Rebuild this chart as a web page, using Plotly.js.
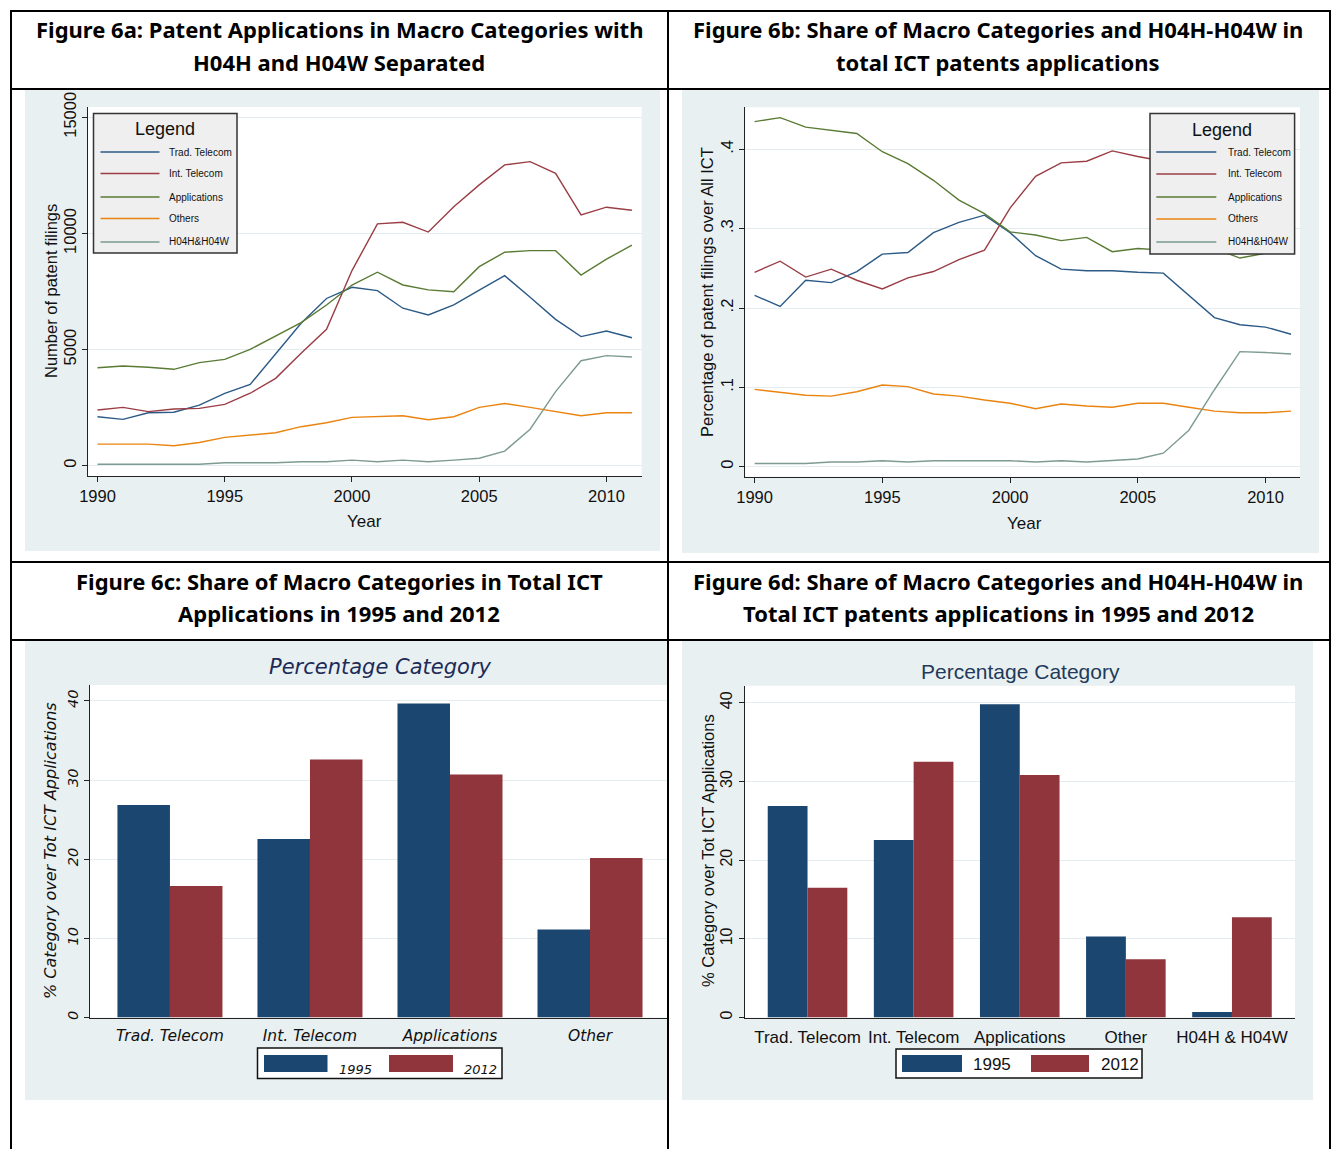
<!DOCTYPE html>
<html>
<head>
<meta charset="utf-8">
<script src="https://cdn.plot.ly/plotly-3.0.1.min.js"></script>
<style>
  html, body { margin: 0; padding: 0; background: #ffffff; }
  #chart { width: 1336px; height: 1149px; }
</style>
</head>
<body>
<div id="chart"></div>
<script>
// ---------- data ----------
const years = [1990, 1991, 1992, 1993, 1994, 1995, 1996, 1997, 1998, 1999, 2000,
               2001, 2002, 2003, 2004, 2005, 2006, 2007, 2008, 2009, 2010, 2011];
const yearTicks = [1990, 1995, 2000, 2005, 2010];

const seriesNames = ['Trad. Telecom', 'Int. Telecom', 'Applications', 'Others', 'H04H&H04W'];

// Figure 6a: number of patent filings
const countTrad  = [2110, 1995, 2280, 2300, 2610, 3115, 3500, 4840, 6130, 7200, 7680,
                    7540, 6780, 6490, 6920, 7560, 8180, 7250, 6300, 5560, 5800, 5510];
const countInt   = [2400, 2510, 2330, 2440, 2470, 2640, 3120, 3760, 4840, 5870, 8400,
                    10410, 10480, 10060, 11150, 12090, 12950, 13090, 12590, 10800, 11130, 11000];
const countApp   = [4220, 4290, 4240, 4150, 4440, 4580, 5010, 5580, 6160, 6920, 7780,
                    8330, 7780, 7570, 7490, 8570, 9190, 9260, 9260, 8210, 8890, 9500];
const countOther = [930, 930, 930, 860, 1000, 1220, 1320, 1420, 1680, 1850, 2080,
                    2100, 2150, 1980, 2110, 2510, 2680, 2510, 2330, 2150, 2280, 2280];
const countH04   = [60, 60, 60, 60, 60, 130, 130, 130, 170, 170, 240,
                    170, 240, 170, 240, 320, 630, 1570, 3190, 4520, 4740, 4680];
const countTicks = [0, 5000, 10000, 15000];
const countTickText = ['0', '5000', '10000', '15000'];

// Figure 6b: share of all ICT filings
const shareTrad  = [0.216, 0.202, 0.235, 0.232, 0.246, 0.268, 0.270, 0.295, 0.308, 0.317, 0.295,
                    0.266, 0.249, 0.247, 0.247, 0.245, 0.244, 0.216, 0.188, 0.179, 0.176, 0.167];
const shareInt   = [0.245, 0.259, 0.239, 0.249, 0.235, 0.224, 0.238, 0.246, 0.261, 0.273, 0.326,
                    0.366, 0.383, 0.385, 0.398, 0.391, 0.385, 0.389, 0.374, 0.346, 0.339, 0.333];
const shareApp   = [0.435, 0.440, 0.428, 0.424, 0.420, 0.397, 0.382, 0.361, 0.336, 0.319, 0.296,
                    0.292, 0.285, 0.289, 0.271, 0.275, 0.273, 0.275, 0.275, 0.263, 0.269, 0.288];
const shareOther = [0.0975, 0.094, 0.090, 0.089, 0.0945, 0.103, 0.101, 0.0916, 0.089, 0.084, 0.080,
                    0.073, 0.079, 0.0765, 0.075, 0.080, 0.080, 0.075, 0.070, 0.068, 0.068, 0.070];
const shareH04   = [0.004, 0.004, 0.004, 0.006, 0.006, 0.0075, 0.006, 0.0075, 0.0075, 0.0075, 0.0075,
                    0.006, 0.0075, 0.006, 0.0075, 0.0097, 0.017, 0.046, 0.097, 0.145, 0.144, 0.142];
const shareTicks = [0, 0.1, 0.2, 0.3, 0.4];
const shareTickText = ['0', '.1', '.2', '.3', '.4'];

// Figure 6c / 6d: percentage by category, 1995 vs 2012
const barYears = ['1995', '2012'];
const catsC = ['Trad. Telecom', 'Int. Telecom', 'Applications', 'Other'];
const pctC1995 = [26.85, 22.55, 39.66, 11.1];
const pctC2012 = [16.6, 32.6, 30.7, 20.15];
const catsD = ['Trad. Telecom', 'Int. Telecom', 'Applications', 'Other', 'H04H &amp; H04W'];
const pctD1995 = [26.86, 22.54, 39.8, 10.3, 0.7];
const pctD2012 = [16.5, 32.5, 30.8, 7.4, 12.75];
const pctTicks = [0, 10, 20, 30, 40];

// ---------- styling ----------
const W = 1336, H = 1149;
const px = x => x / W;          // pixel -> paper x
const py = y => 1 - y / H;      // pixel -> paper y

const lineColors = ['#2c5a86', '#9a3d45', '#5a7b34', '#ea8410', '#7d9b91'];
const barColors = ['#1b466f', '#90353c'];
const panelBg = '#e9f0f2';
const gridColor = '#e3ecef';
const axisColor = '#222222';

const stataFont = 'Liberation Sans, Arial, sans-serif';
const headFont = {family: 'Noto Sans, Open Sans, sans-serif', size: 22, color: '#000000', weight: 'bold'};
const scriptFam = 'DejaVu Sans, sans-serif';

// ---------- traces ----------
const countSeries = [countTrad, countInt, countApp, countOther, countH04];
const shareSeries = [shareTrad, shareInt, shareApp, shareOther, shareH04];
const traces = [];
countSeries.forEach((ys, i) => traces.push({
  type: 'scatter', mode: 'lines', x: years, y: ys, name: seriesNames[i],
  line: {color: lineColors[i], width: 1.4}, xaxis: 'x', yaxis: 'y', hoverinfo: 'skip'
}));
shareSeries.forEach((ys, i) => traces.push({
  type: 'scatter', mode: 'lines', x: years, y: ys, name: seriesNames[i],
  line: {color: lineColors[i], width: 1.4}, xaxis: 'x2', yaxis: 'y2', hoverinfo: 'skip'
}));
[pctC1995, pctC2012].forEach((ys, i) => traces.push({
  type: 'bar', x: catsC, y: ys, name: barYears[i], marker: {color: barColors[i], line: {width: 0}},
  xaxis: 'x3', yaxis: 'y3', hoverinfo: 'skip'
}));
[pctD1995, pctD2012].forEach((ys, i) => traces.push({
  type: 'bar', x: catsD, y: ys, name: barYears[i], marker: {color: barColors[i], line: {width: 0}},
  xaxis: 'x4', yaxis: 'y4', hoverinfo: 'skip'
}));

// ---------- axes ----------
const tickFont = {family: stataFont, size: 16.5, color: '#111'};
function xAxisLine(x0, x1, range, anchor) {
  return {
    domain: [px(x0), px(x1)], range: range, anchor: anchor,
    tickvals: yearTicks, ticks: 'outside', ticklen: 5, tickwidth: 1, tickcolor: axisColor,
    showline: true, linecolor: axisColor, linewidth: 1, showgrid: false, zeroline: false,
    tickfont: tickFont, fixedrange: true
  };
}
function yAxisLine(top, bottom, range, anchor, tickvals, ticktext) {
  return {
    domain: [py(bottom), py(top)], range: range, anchor: anchor,
    tickvals: tickvals, ticktext: ticktext, tickangle: -90,
    ticks: 'outside', ticklen: 5, tickwidth: 1, tickcolor: axisColor,
    showline: true, linecolor: axisColor, linewidth: 1,
    showgrid: true, gridcolor: gridColor, gridwidth: 1, zeroline: false,
    tickfont: tickFont, fixedrange: true
  };
}
function xAxisBar(x0, x1, range, anchor, font) {
  return {
    domain: [px(x0), px(x1)], range: range, anchor: anchor, type: 'category',
    ticks: '', showline: true, linecolor: axisColor, linewidth: 1, showgrid: false, zeroline: false,
    ticklabelstandoff: 4, tickfont: font, fixedrange: true
  };
}
function yAxisBar(top, bottom, range, anchor, font) {
  return {
    domain: [py(bottom), py(top)], range: range, anchor: anchor,
    tickvals: pctTicks, tickangle: -90,
    ticks: 'outside', ticklen: 5, tickwidth: 1, tickcolor: axisColor,
    showline: true, linecolor: axisColor, linewidth: 1,
    showgrid: true, gridcolor: gridColor, zeroline: false,
    tickfont: font, fixedrange: true
  };
}

const scriptTick = {family: scriptFam, size: 15.5, color: '#111', style: 'italic', weight: 200};
const armTick = {family: stataFont, size: 17, color: '#111'};

// ---------- shapes ----------
const shapes = [];
function box(x0, y0, x1, y1, fill, line, layer) {
  shapes.push({type: 'rect', xref: 'paper', yref: 'paper',
    x0: px(x0), x1: px(x1), y0: py(y1), y1: py(y0),
    fillcolor: fill, line: line || {width: 0}, layer: layer || 'below'});
}
function seg(x0, y0, x1, y1, color, width, layer) {
  shapes.push({type: 'line', xref: 'paper', yref: 'paper',
    x0: px(x0), x1: px(x1), y0: py(y0), y1: py(y1),
    line: {color: color, width: width}, layer: layer || 'above'});
}

// panel backgrounds
box(25, 90, 660, 551, panelBg);
box(682, 90, 1319, 553, panelBg);
box(25, 641, 668, 1100, panelBg);
box(682, 641, 1313, 1100, panelBg);
// white plot regions
['', '2', '3', '4'].forEach(n => shapes.push({
  type: 'rect', xref: 'x' + n + ' domain', yref: 'y' + n + ' domain',
  x0: 0, x1: 1, y0: 0, y1: 1, fillcolor: '#ffffff', line: {width: 0}, layer: 'below'
}));

// table rules
seg(10, 11, 1331, 11, '#000', 2);
seg(10, 89, 1331, 89, '#000', 2);
seg(10, 562, 1331, 562, '#000', 2);
seg(10, 640, 1331, 640, '#000', 2);
seg(11, 10, 11, 1149, '#000', 2);
seg(668, 10, 668, 1149, '#000', 2);
seg(1330, 10, 1330, 1149, '#000', 2);

// ---------- annotations ----------
const annotations = [];
function label(text, x, y, font, opts) {
  annotations.push(Object.assign({
    text: text, x: px(x), y: py(y), xref: 'paper', yref: 'paper',
    showarrow: false, xanchor: 'center', yanchor: 'middle', font: font
  }, opts || {}));
}

// cell headings
label('Figure 6a: Patent Applications in Macro Categories with', 339, 29, headFont);
label('H04H and H04W Separated', 339, 62, headFont);
label('Figure 6b: Share of Macro Categories and H04H-H04W in', 998, 29, headFont);
label('total ICT patents applications', 998, 62, headFont);
label('Figure 6c: Share of Macro Categories in Total ICT', 339, 581, headFont);
label('Applications in 1995 and 2012', 339, 613, headFont);
label('Figure 6d: Share of Macro Categories and H04H-H04W in', 998, 581, headFont);
label('Total ICT patents applications in 1995 and 2012', 998, 613, headFont);

// axis titles
const axTitle = {family: stataFont, size: 16.5, color: '#111'};
label('Number of patent filings', 51, 291, axTitle, {textangle: -90});
label('Year', 365, 521, {family: stataFont, size: 17, color: '#111'});
label('Percentage of patent filings over All ICT', 707, 292, axTitle, {textangle: -90});
label('Year', 1024, 523, {family: stataFont, size: 17, color: '#111'});
label('% Category over Tot ICT Applications', 50, 851,
  {family: scriptFam, size: 16, color: '#111', style: 'italic', weight: 200}, {textangle: -90});
label('% Category over Tot ICT Applications', 708, 851, axTitle, {textangle: -90});

// bar panel titles
label('Percentage Category', 380, 667, {family: scriptFam, size: 21, color: '#1c2b58', style: 'italic', weight: 200});
label('Percentage Category', 1020, 671, {family: stataFont, size: 21, color: '#1f3a5a'});

// line-chart legends
function lineLegend(bx0, by0, bx1, by1, titleX, titleY, sx0, sx1, labelX, rowYs) {
  box(bx0, by0, bx1, by1, '#efefef', {color: '#333', width: 1.5}, 'above');
  label('Legend', titleX, titleY, {family: stataFont, size: 18, color: '#111'});
  seriesNames.forEach((n, i) => {
    seg(sx0, rowYs[i], sx1, rowYs[i], lineColors[i], 1.5, 'above');
    label(n, labelX, rowYs[i], {family: stataFont, size: 10, color: '#111'}, {xanchor: 'left'});
  });
}
lineLegend(93.5, 113.5, 237, 253, 164.5, 129, 100.5, 159.5, 167, [152, 173.5, 197, 218.5, 242]);
lineLegend(1150, 113.5, 1294.6, 254, 1222.4, 129.5, 1156.3, 1216.3, 1226, [152, 174, 197, 219, 242]);

// bar-chart legends
function barLegend(bx0, by0, bx1, by1, swatches, labelXs, labelY, font) {
  box(bx0, by0, bx1, by1, '#ffffff', {color: '#111', width: 1.5}, 'above');
  barYears.forEach((yr, i) => {
    const s = swatches[i];
    box(s[0], s[1], s[2], s[3], barColors[i], {width: 0}, 'above');
    label(yr, labelXs[i], labelY, font, {xanchor: 'left'});
  });
}
barLegend(257.5, 1048, 502, 1078.5, [[264, 1055, 327.5, 1072], [389, 1055, 453, 1072]],
  [337, 462], 1069, {family: scriptFam, size: 13, color: '#111', style: 'italic', weight: 200});
barLegend(896, 1049, 1142, 1078, [[902, 1055, 962, 1072], [1031, 1055, 1089, 1072]],
  [971, 1099], 1064, {family: stataFont, size: 17, color: '#111'});

// ---------- layout ----------
const layout = {
  width: W, height: H,
  margin: {l: 0, r: 0, t: 0, b: 0},
  paper_bgcolor: '#ffffff', plot_bgcolor: 'rgba(0,0,0,0)',
  showlegend: false,
  barmode: 'group', bargap: 0.25, bargroupgap: 0,
  font: {family: stataFont, color: '#111'},
  xaxis:  xAxisLine(88.2, 641.6, [1989.635, 2011.38], 'y'),
  yaxis:  yAxisLine(107, 476, [-443, 15443], 'x', countTicks, countTickText),
  xaxis2: xAxisLine(745.3, 1300, [1989.636, 2011.35], 'y2'),
  yaxis2: yAxisLine(107.3, 476.7, [-0.0126, 0.453], 'x2', shareTicks, shareTickText),
  xaxis3: xAxisBar(90, 668, [-0.571, 3.557], 'y3', scriptTick),
  yaxis3: yAxisBar(685, 1017.5, [0, 42.0], 'x3', Object.assign({}, scriptTick, {size: 14.5})),
  xaxis4: xAxisBar(744.5, 1295, [-0.594, 4.594], 'y4', armTick),
  yaxis4: yAxisBar(685.7, 1017.5, [0, 42.16], 'x4', {family: stataFont, size: 16, color: '#111'}),
  shapes: shapes,
  annotations: annotations
};

Plotly.newPlot('chart', traces, layout, {displayModeBar: false, staticPlot: true});
</script>
</body>
</html>
